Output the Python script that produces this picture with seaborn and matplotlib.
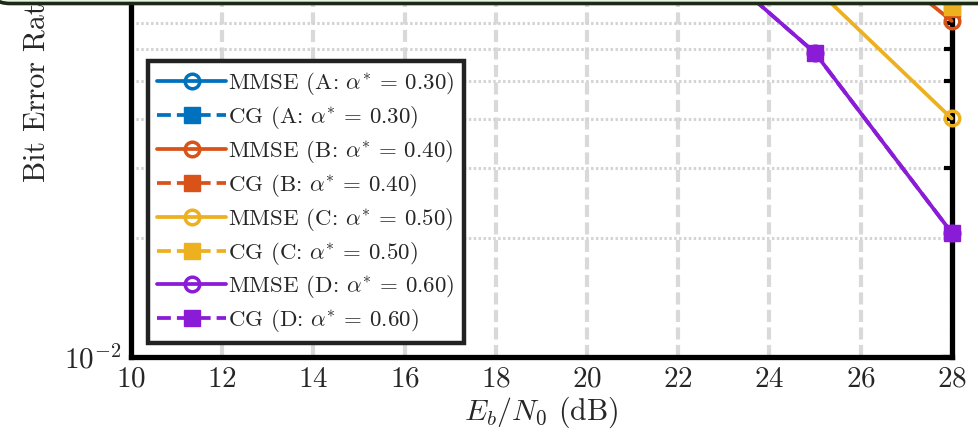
import numpy as np
import pandas as pd
import seaborn as sns
import matplotlib
matplotlib.use("Agg")
import matplotlib.pyplot as plt
from matplotlib.patches import FancyBboxPatch
from matplotlib.transforms import IdentityTransform
from matplotlib.ticker import LogLocator, NullFormatter, FixedLocator

# ---------------- data ----------------
ebn0 = [10, 13, 16, 19, 22, 25, 28]
ber_mmse_a = [0.46, 0.41, 0.35, 0.29, 0.23, 0.175, 0.125]
ber_cg_a = [0.46, 0.41, 0.35, 0.29, 0.23, 0.175, 0.127]
ber_mmse_b = [0.43, 0.37, 0.31, 0.245, 0.185, 0.135, 0.0708]
ber_cg_b = [0.43, 0.37, 0.31, 0.245, 0.185, 0.14, 0.076]
ber_mmse_c = [0.39, 0.33, 0.27, 0.205, 0.145, 0.086, 0.0401]
ber_cg_c = [0.39, 0.33, 0.27, 0.205, 0.15, 0.11, 0.077]
ber_mmse_d = [0.36, 0.30, 0.24, 0.175, 0.118, 0.0588, 0.0206]
ber_cg_d = [0.36, 0.30, 0.24, 0.175, 0.118, 0.0588, 0.0206]

labels = [r"MMSE (A: $\alpha^{*}$ = 0.30)", r"CG (A: $\alpha^{*}$ = 0.30)",
          r"MMSE (B: $\alpha^{*}$ = 0.40)", r"CG (B: $\alpha^{*}$ = 0.40)",
          r"MMSE (C: $\alpha^{*}$ = 0.50)", r"CG (C: $\alpha^{*}$ = 0.50)",
          r"MMSE (D: $\alpha^{*}$ = 0.60)", r"CG (D: $\alpha^{*}$ = 0.60)"]
series = [ber_mmse_a, ber_cg_a, ber_mmse_b, ber_cg_b,
          ber_mmse_c, ber_cg_c, ber_mmse_d, ber_cg_d]
colors = ["#0072BD", "#0072BD", "#D95319", "#D95319",
          "#EDB120", "#EDB120", "#8A1BD6", "#8A1BD6"]

xticks = [10, 12, 14, 16, 18, 20, 22, 24, 26, 28]

# ---------------- style ----------------
sns.set_style("white")
plt.rcParams["font.family"] = ["cmr10", "DejaVu Serif"]
plt.rcParams["mathtext.fontset"] = "cm"
plt.rcParams["axes.formatter.use_mathtext"] = True
plt.rcParams["axes.unicode_minus"] = False

W, H = 979, 437
fig = plt.figure(figsize=(W / 100, H / 100), dpi=100)
left_px, right_px, bottom_px = 131, 951.7, 356.7
decade_px = 395
ax = fig.add_axes([left_px / W, 1 - bottom_px / H,
                   (right_px - left_px) / W, decade_px / H])

for i, (vals, lab, col) in enumerate(zip(series, labels, colors)):
    is_cg = (i % 2 == 1)
    df = pd.DataFrame({"x": ebn0, "y": vals})
    if is_cg:
        sns.lineplot(data=df, x="x", y="y", ax=ax, color=col, linestyle="--",
                     linewidth=2.7, marker="s", markersize=11.5,
                     markerfacecolor=col, markeredgecolor=col,
                     markeredgewidth=1.0, label=lab, zorder=4 + i,
                     clip_on=False)
    else:
        sns.lineplot(data=df, x="x", y="y", ax=ax, color=col, linestyle="-",
                     linewidth=2.7, marker="o", markersize=10.5,
                     markerfacecolor="none", markeredgecolor=col,
                     markeredgewidth=2.5, label=lab, zorder=4 + i,
                     clip_on=False)

ax.set_yscale("log")
ax.set_ylim(1e-2, 1e-1)
ax.set_xlim(10, 28)
ax.xaxis.set_major_locator(FixedLocator(xticks))
ax.yaxis.set_major_locator(LogLocator(base=10, numticks=10))
ax.yaxis.set_minor_locator(LogLocator(base=10, subs=np.arange(2, 10), numticks=10))
ax.yaxis.set_minor_formatter(NullFormatter())

ax.set_axisbelow(True)
ax.grid(which="major", axis="x", color="#d9d9d9", linewidth=3.0,
        linestyle=(0, (2.9, 1.3)))
ax.grid(which="minor", axis="y", color="#d4d4d4", linewidth=2.2,
        linestyle=(0, (0.8, 0.8)))
ax.grid(which="major", axis="y", color="#d4d4d4", linewidth=2.2,
        linestyle=(0, (0.8, 0.8)))

for s in ax.spines.values():
    s.set_linewidth(3.8)
    s.set_color("black")
    s.set_zorder(3)
ax.tick_params(which="both", direction="in", top=True, right=True,
               labelsize=21, width=3, color="black", pad=7)
ax.tick_params(which="major", length=7)
ax.tick_params(which="minor", length=6)

ax.set_xlabel(r"$E_b/N_0$ (dB)", fontsize=21.5, labelpad=1)
ax.set_ylabel("")
fig.text(37 / W, 1 - 182 / H, "Bit Error Rate", rotation=90,
         ha="center", va="bottom", fontsize=21.5)

handles, labs = ax.get_legend_handles_labels()
leg = ax.legend(handles, labs, loc="upper left",
                bbox_to_anchor=(148 / W, 1 - 61 / H),
                bbox_transform=fig.transFigure, borderaxespad=0,
                fontsize=16.5, handlelength=3.0, handletextpad=0.1,
                labelspacing=0.3, borderpad=0.4, fancybox=False,
                framealpha=1, edgecolor="#222222", facecolor="white")
leg.get_frame().set_linewidth(3.2)
leg.set_zorder(20)

# rounded callout box edge cropped at top
box = FancyBboxPatch((-12, H - 3.5), W + 40, 80,
                     boxstyle="round,pad=0,rounding_size=22",
                     transform=IdentityTransform(), facecolor="#eaf2e2",
                     edgecolor="#1b2a12", linewidth=2.6, zorder=100,
                     clip_on=False)
fig.add_artist(box)

fig.savefig("out.png", dpi=100)
